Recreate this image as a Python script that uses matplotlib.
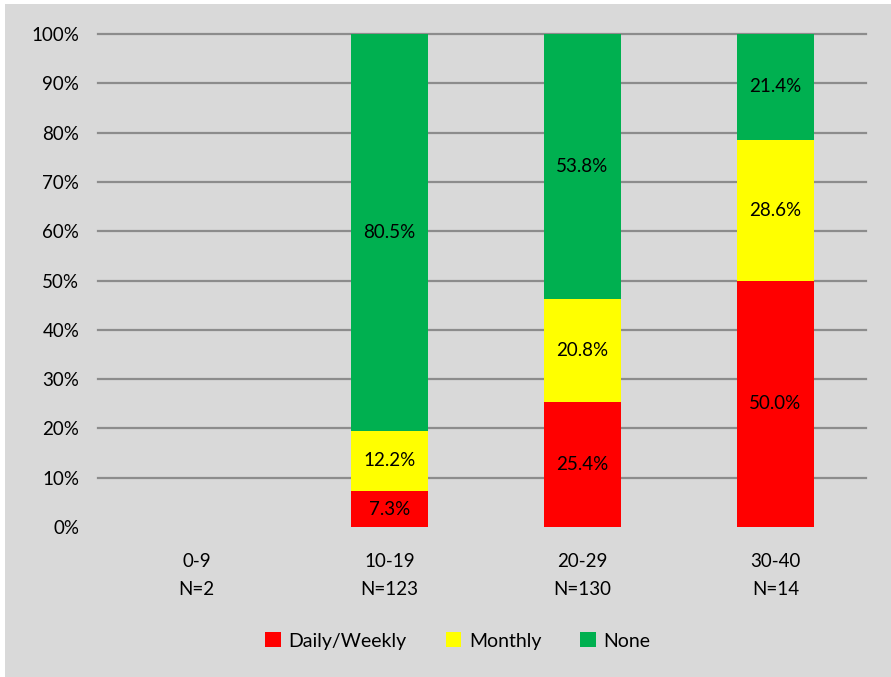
import matplotlib.pyplot as plt
from matplotlib.patches import Rectangle

groups = ['0-9\nN=2', '10-19\nN=123', '20-29\nN=130', '30-40\nN=14']
daily = [0.0, 7.3, 25.4, 50.0]
monthly = [0.0, 12.2, 20.8, 28.6]
none = [0.0, 80.5, 53.8, 21.4]
series = ['Daily/Weekly', 'Monthly', 'None']
colors = ['#ff0000', '#ffff00', '#00b050']

plt.rcParams['font.family'] = ['Lato', 'DejaVu Sans']

fig = plt.figure(figsize=(8.91, 6.77), dpi=100)
fig.patches.append(Rectangle((5 / 891, 0), 1, 1 - 4 / 677, transform=fig.transFigure,
                             facecolor='#d9d9d9', edgecolor='none', zorder=-10))
ax = fig.add_axes([100 / 891, 1 - 527 / 677, 772 / 891, 493 / 677])
ax.set_facecolor('none')

x = range(len(groups))
bottom = [0.0] * len(groups)
for name, vals, c in zip(series, [daily, monthly, none], colors):
    ax.bar(x, vals, width=0.4, bottom=bottom, color=c, label=name, zorder=3)
    for xi, v, b in zip(x, vals, bottom):
        if v > 0:
            ax.text(xi, b + v / 2, f'{v:.1f}%', ha='center', va='center',
                    fontsize=13.5, zorder=4)
    bottom = [b + v for b, v in zip(bottom, vals)]

ax.set_xlim(-0.5, 3.5)
ax.set_ylim(0, 100)
ax.set_yticks(range(0, 101, 10))
ax.set_yticklabels([f'{t}%' for t in range(0, 101, 10)])
ax.set_xticks(list(x))
ax.set_xticklabels(groups, linespacing=1.75)
ax.tick_params(length=0, labelsize=13.5)
ax.tick_params(axis='x', pad=19)
ax.tick_params(axis='y', pad=15)
for t in range(10, 101, 10):
    ax.axhline(t, xmin=-2 / 772, xmax=766 / 772, color='#8c8c8c', lw=1.6, zorder=1,
               clip_on=False)
for s in ax.spines.values():
    s.set_visible(False)

fig.legend(loc='center', bbox_to_anchor=(458 / 891, 1 - 641 / 677), ncol=3, frameon=False,
           fontsize=14, handlelength=0.8, handleheight=0.8, handletextpad=0.4,
           columnspacing=2.0)

fig.savefig('out.png', dpi=100)
